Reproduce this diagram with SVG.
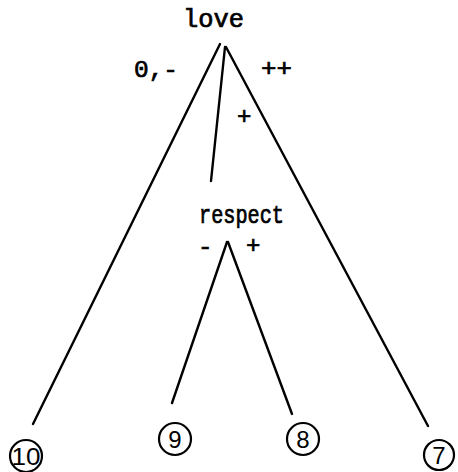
<svg xmlns="http://www.w3.org/2000/svg" width="458" height="472" viewBox="0 0 458 472">
<style>
.t{font-family:"Liberation Mono","DejaVu Sans Mono",monospace;fill:#000;stroke:#000;stroke-width:0.7;}
.w{font-size:25px;}
.s{font-size:24px;}
.e{stroke:#000;stroke-width:2.4;fill:none;stroke-linecap:round;}
.c{stroke:#000;stroke-width:2.2;fill:#fff;}
.n{font-family:"Liberation Sans","DejaVu Sans",sans-serif;font-size:24px;fill:#000;text-anchor:middle;}
</style>
<rect width="458" height="472" fill="#fff"/>
<g id="connectors">
<line class="e" x1="220" y1="44" x2="33" y2="424"/>
<line class="e" x1="225" y1="47" x2="211" y2="181"/>
<line class="e" x1="226" y1="47" x2="428" y2="426"/>
<line class="e" x1="227" y1="242" x2="172" y2="403"/>
<line class="e" x1="228" y1="242" x2="292" y2="414"/>
<text class="t s" x="134" y="77" textLength="44" lengthAdjust="spacingAndGlyphs">0,-</text>
<text class="t s" x="261" y="76" textLength="31" lengthAdjust="spacingAndGlyphs">++</text>
<text class="t s" x="237" y="124">+</text>
<text class="t s" x="198" y="254">-</text>
<text class="t s" x="246" y="253">+</text>
</g>
<g id="love">
<text class="t w" x="183" y="27" textLength="61" lengthAdjust="spacingAndGlyphs">love</text>
</g>
<g id="respect">
<text class="t w" x="199" y="223" textLength="85" lengthAdjust="spacingAndGlyphs">respect</text>
</g>
<g id="n10">
<circle class="c" cx="26" cy="456" r="16"/>
<text class="n" x="26" y="465" textLength="29" lengthAdjust="spacingAndGlyphs">10</text>
</g>
<g id="n9">
<circle class="c" cx="175" cy="439" r="16"/>
<text class="n" x="175" y="448">9</text>
</g>
<g id="n8">
<circle class="c" cx="303" cy="439" r="16"/>
<text class="n" x="303" y="448">8</text>
</g>
<g id="n7">
<circle class="c" cx="439" cy="455" r="15"/>
<text class="n" x="439" y="464">7</text>
</g>
</svg>
